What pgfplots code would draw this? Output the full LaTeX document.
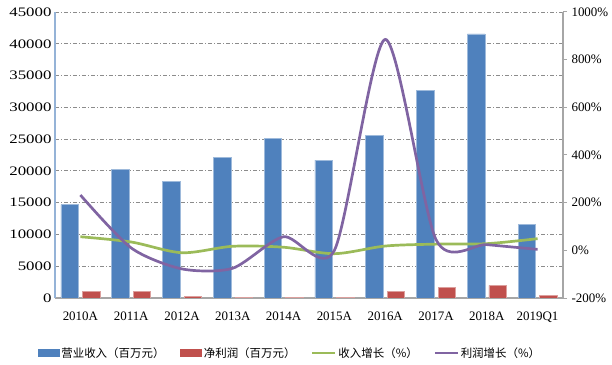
\documentclass[border=0pt]{standalone}
\usepackage{fontspec}
\setmainfont{Liberation Serif}
\newfontfamily\cjk{Noto Sans CJK SC}
\newfontfamily\widenum{Liberation Serif}[FakeStretch=1.3]
\usepackage{pgfplots}
\pgfplotsset{compat=1.18}
\definecolor{cblue}{HTML}{4F81BD}
\definecolor{cred}{HTML}{C0504D}
\definecolor{cgreen}{HTML}{9BBB59}
\definecolor{cpurple}{HTML}{8064A2}
\definecolor{gridc}{HTML}{8C8C8C}
\definecolor{laxis}{HTML}{95B3D7}
\definecolor{raxis}{HTML}{A6A6A6}
\begin{document}
\begin{tikzpicture}
\path[use as bounding box] (-55bp,-67bp) rectangle (557bp,298bp);
\begin{axis}[
  scale only axis, width=508bp, height=286bp,
  xmin=-0.5, xmax=9.5, ymin=0, ymax=45000,
  ybar=4bp, bar width=17.5bp,
  xtick={0,...,9},
  xticklabels={2010A,2011A,2012A,2013A,2014A,2015A,2016A,2017A,2018A,2019Q1},
  x tick label style={font=\fontsize{13}{15}\selectfont, yshift=-10bp},
  ytick={0,5000,...,45000},
  y tick label style={font=\widenum\fontsize{13}{15}\selectfont},
  /pgf/number format/assume math mode=true,
  /pgf/number format/1000 sep={},
  scaled y ticks=false,
  ymajorgrids,
  major grid style={gridc, line width=0.8bp, dash pattern=on 4bp off 2bp on 1bp off 2bp},
  axis x line*=bottom, axis y line*=left,
  x axis line style={raxis, line width=1.3bp, -},
  y axis line style={laxis, line width=1.3bp, -},
  major tick length=0pt,
]
\addplot[fill=cblue, draw=cblue!55!white, line width=0.6bp] coordinates {
  (0,14700) (1,20200) (2,18400) (3,22150) (4,25100)
  (5,21700) (6,25550) (7,32700) (8,41550) (9,11600)};
\addplot[fill=cred, draw=cred!55!white, line width=0.6bp] coordinates {
  (0,1050) (1,1050) (2,200) (3,80) (4,80)
  (5,80) (6,1050) (7,1700) (8,2000) (9,450)};
\end{axis}
\begin{axis}[
  scale only axis, width=508bp, height=286bp,
  xmin=-0.5, xmax=9.5, ymin=-200, ymax=1000,
  axis x line=none, axis y line*=right,
  y axis line style={raxis, line width=1.3bp, -},
  ytick={-200,0,...,1000},
  yticklabel={\pgfmathprintnumber{\tick}\%},
  /pgf/number format/assume math mode=true,
  /pgf/number format/1000 sep={},
  y tick label style={font=\fontsize{13}{15}\selectfont, xshift=1bp},
  tick align=outside, major tick length=4bp,
  tick style={raxis, line width=1bp},
  legend style={at={(0.4626,-0.192)}, anchor=center, draw=none, fill=none,
    font=\cjk\fontsize{11.5}{13}\selectfont, legend columns=4,
    /tikz/every even column/.append style={column sep=14bp}},
  legend cell align=left,
]
\addlegendimage{legend image code/.code={\fill[cblue] (0bp,-3.5bp) rectangle (21bp,3.5bp);}}
\addlegendentry{营业收入（百万元）}
\addlegendimage{legend image code/.code={\fill[cred] (0bp,-3.5bp) rectangle (21bp,3.5bp);}}
\addlegendentry{净利润（百万元）}
\addplot[cgreen, line width=2.7bp, smooth, no markers,
  legend image code/.code={\draw[cgreen, line width=2bp] (0bp,0bp) -- (23bp,0bp);}] coordinates {
  (0,57) (1,35) (2,-10) (3,17) (4,13)
  (5,-14) (6,18) (7,26) (8,28) (9,49)};
\addlegendentry{收入增长（\%）}
\addplot[cpurple, line width=2.7bp, smooth, tension=0.45, no markers,
  legend image code/.code={\draw[cpurple, line width=2bp] (0bp,0bp) -- (23bp,0bp);}] coordinates {
  (0,232) (1,10) (2,-78) (3,-75) (4,57)
  (5,0) (6,885) (7,45) (8,24) (9,4)};
\addlegendentry{利润增长（\%）}
\end{axis}
\end{tikzpicture}
\end{document}
